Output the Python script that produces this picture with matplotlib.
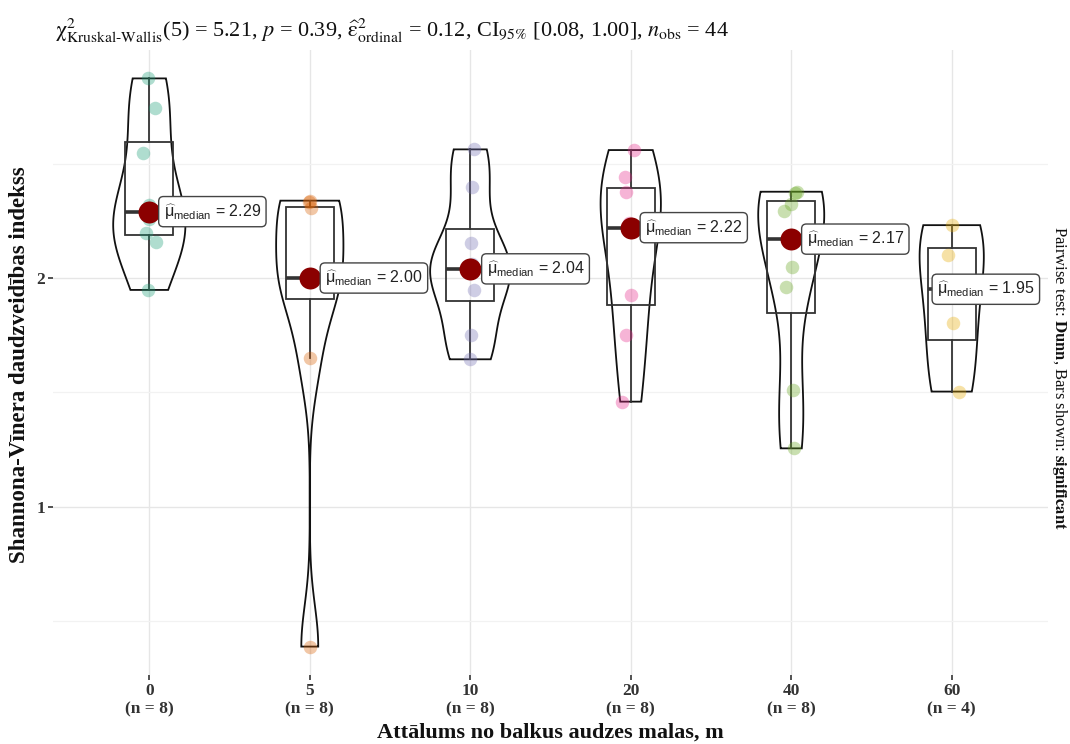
import numpy as np
import matplotlib
matplotlib.use("Agg")
import matplotlib.pyplot as plt
from matplotlib.patches import Rectangle

# ---------------- data ----------------
categories = ["0", "5", "10", "20", "40", "60"]
g0 = [1.948, 2.159, 2.195, 2.26, 2.32, 2.545, 2.744, 2.872]
g5 = [0.390, 1.649, 1.993, 1.998, 2.002, 2.305, 2.330, 2.338]
g10 = [1.645, 1.751, 1.948, 2.02, 2.06, 2.151, 2.399, 2.562]
g20 = [1.460, 1.751, 1.926, 2.20, 2.24, 2.377, 2.442, 2.559]
g40 = [1.256, 1.511, 1.962, 2.049, 2.291, 2.325, 2.37, 2.377]
g60 = [1.504, 1.802, 2.10, 2.231]
groups = [g0, g5, g10, g20, g40, g60]

# horizontal jitter of points (pixels)
jit0 = [-1, 7, -3, 0, 0, -6, 6, -1]
jit5 = [0, 0, -3, 2, -2, 1, -1, 0]
jit10 = [0, 1, 4, 0, 2, 1, 2, 4]
jit20 = [-9, -5, 0, 0, -2, -5, -6, 3]
jit40 = [3, 2, -5, 1, -7, 0, 4, 6]
jit60 = [7, 1, -4, 0]
jitters = [jit0, jit5, jit10, jit20, jit40, jit60]

# label offsets (pixels, left edge of label box relative to group centre)
label_off = [10, 11, 12, 10, 11, -19]

palette = ["#1B9E77", "#D95F02", "#7570B3", "#E7298A", "#66A61E", "#E6AB02"]

title = (r"$\mathrm{\chi}^2_{\mathrm{Kruskal‐Wallis}}$(5) = 5.21, $\mathit{p}$ = 0.39, "
         r"$\widehat{\mathrm{\varepsilon}}^2_{\mathrm{ordinal}}$ = 0.12, CI$_{95\%}$ [0.08, 1.00], "
         r"$\mathit{n}_{\mathrm{obs}}$ = 44")
xlabel = "Attālums no balkus audzes malas, m"
ylabel = "Shannona-Vīnera daudzveidības indekss"
right_text = r"Pairwise test: $\mathbf{Dunn}$, Bars shown: $\mathbf{significant}$"

# ---------------- style ----------------
plt.rcParams["mathtext.fontset"] = "custom"
plt.rcParams["mathtext.rm"] = "Liberation Sans"
plt.rcParams["mathtext.it"] = "Liberation Sans:italic"
plt.rcParams["mathtext.bf"] = "Liberation Sans:bold"
plt.rcParams["font.family"] = ["Liberation Serif", "DejaVu Serif"]

W, H = 1070, 744
fig = plt.figure(figsize=(W / 100, H / 100), dpi=100)
L, R, T, B = 53, 1048, 50, 675
ax = fig.add_axes([L / W, (H - B) / H, (R - L) / W, (B - T) / H])

allv = np.concatenate([np.array(g) for g in groups])
rng = allv.max() - allv.min()
ax.set_ylim(allv.min() - 0.05 * rng, allv.max() + 0.05 * rng)
ax.set_xlim(-0.6, len(categories) - 0.4)
px_per_unit = (R - L) / (len(categories) + 0.2)

for s in ax.spines.values():
    s.set_visible(False)

# grid
ax.set_yticks([1, 2])
ax.set_yticks([0.5, 1.5, 2.5], minor=True)
ax.set_xticks(range(len(categories)))
ax.grid(True, which="major", color="#E6E6E6", lw=1.0, zorder=0)
ax.grid(True, which="minor", axis="y", color="#F2F2F2", lw=0.9, zorder=0)
ax.set_axisbelow(True)
ax.tick_params(axis="y", which="minor", length=0)
ax.tick_params(axis="both", which="major", length=3.5, width=1.2, color="#333333",
               pad=2)
ax.set_yticklabels(["1", "2"], fontsize=12.5, fontweight="bold", color="#333333")
ax.set_xticklabels([f"{c}\n(n = {len(g)})" for c, g in zip(categories, groups)],
                   fontsize=12.5, fontweight="bold", color="#333333", linespacing=1.25)


def bw_nrd0(x):
    x = np.asarray(x)
    hi = np.std(x, ddof=1)
    q1, q3 = np.percentile(x, [25, 75])
    lo = min(hi, (q3 - q1) / 1.34)
    if lo <= 0:
        lo = hi
    return 0.9 * lo * len(x) ** (-0.2)


dens = []
for g in groups:
    x = np.asarray(g)
    bw = bw_nrd0(x)
    grid = np.linspace(x.min(), x.max(), 512)
    d = np.exp(-0.5 * ((grid[:, None] - x[None, :]) / bw) ** 2).sum(1) / (len(x) * bw * np.sqrt(2 * np.pi))
    dens.append((grid, d))
dmax = max(d.max() for _, d in dens)

for i, g in enumerate(groups):
    x = np.asarray(g)
    grid, d = dens[i]
    hw = d / dmax * 0.25
    ax.fill(np.concatenate([i - hw, (i + hw)[::-1]]), np.concatenate([grid, grid[::-1]]),
            facecolor="none", edgecolor="#111111", lw=1.3, zorder=2)
    q1, med, q3 = np.percentile(x, [25, 50, 75])
    iqr = q3 - q1
    up = x[x <= q3 + 1.5 * iqr].max()
    lo = x[x >= q1 - 1.5 * iqr].min()
    ax.add_patch(Rectangle((i - 0.15, q1), 0.3, q3 - q1, facecolor="none",
                           edgecolor="#333333", lw=1.3, zorder=3))
    ax.plot([i, i], [q3, up], color="#333333", lw=1.3, zorder=3)
    ax.plot([i, i], [lo, q1], color="#333333", lw=1.3, zorder=3)
    ax.plot([i - 0.15, i + 0.15], [med, med], color="#333333", lw=2.6, zorder=3,
            solid_capstyle="butt")
    xs = i + np.asarray(jitters[i]) / px_per_unit
    ax.scatter(xs, x, s=95, color=palette[i], alpha=0.35, linewidths=0, zorder=4)
    ax.scatter([i], [med], s=250, color="#8B0000", linewidths=0, zorder=5)
    ax.text(i + (label_off[i] + 4.5) / px_per_unit, med,
            r"$\widehat{\mathrm{\mu}}_{\mathrm{median}}$" + f" = {med:.2f}",
            fontsize=11.5, fontfamily="Liberation Sans", math_fontfamily="custom",
            ha="left", va="center", color="#222222", zorder=6,
            bbox=dict(boxstyle="round,pad=0.32,rounding_size=0.3", fc="white",
                      ec="#444444", lw=1.0))

fig.text(55 / W, 1 - 37 / H, title, fontsize=16, fontfamily="Liberation Serif",
         math_fontfamily="stix", ha="left", va="baseline", color="#111111")
fig.text(550 / W, 1 - 733 / H, xlabel, fontsize=16, fontweight="bold",
         ha="center", va="center", color="#111111")
fig.text(20 / W, 1 - 365 / H, ylabel, fontsize=16.5, fontweight="bold", rotation=90,
         ha="center", va="center", color="#111111")
fig.text(1060 / W, 1 - 378 / H, right_text, fontsize=12, rotation=-90,
         math_fontfamily="stix", ha="center", va="center", color="#111111")

fig.savefig("out.png", dpi=100)
